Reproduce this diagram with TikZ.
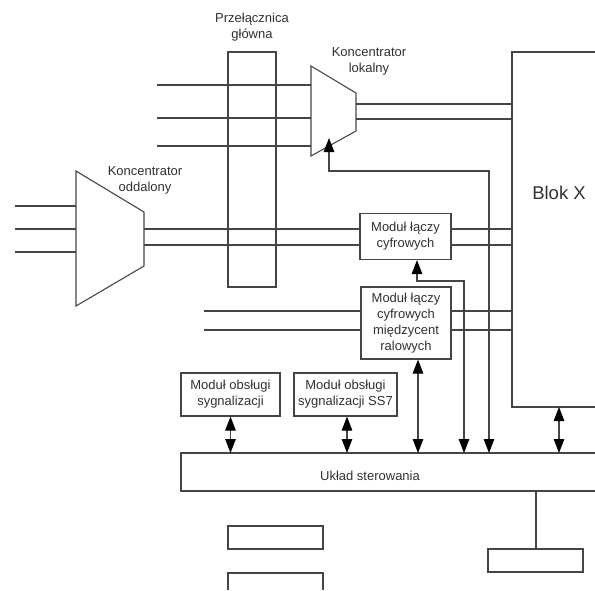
\documentclass[tikz,border=0pt]{standalone}
\usepackage{fontspec}
\setmainfont{Liberation Sans}
\usepackage{xcolor}
\usetikzlibrary{arrows.meta}
\definecolor{linia}{HTML}{454545}
\definecolor{tekst}{HTML}{303030}

\begin{document}
\begin{tikzpicture}[x=1pt,y=-1pt,line width=1.1pt,color=linia,text=tekst,
  font=\fontsize{13}{16}\selectfont,
  every node/.style={align=center},
  >={Triangle[length=14pt,width=10.5pt,color=black]},
  blok/.style={draw,inner sep=2pt},
  dwa/.style={<->}]
\useasboundingbox (0,0) rectangle (595,590);
% przelacznica glowna
\node[blok,minimum width=48pt,minimum height=235pt] (przel) at (252,169.5) {};
\node (przelt) at (252,27) {Przełącznica\\główna};
% koncentrator lokalny
\draw (311,66) coordinate (kl1) -- (356,93) coordinate (kl2) -- (356,131) -- (311,156) -- cycle;
\node (klt) at (369,61) {Koncentrator\\lokalny};
% koncentrator oddalony
\draw (76,171) coordinate (ko1) -- (144,212) coordinate (ko2) -- (144,266) -- (76,306) -- cycle;
\node (kot) at (145,180) {Koncentrator\\oddalony};
% blok X
\coordinate (blokx) at (512,52);
\draw (595,52) -- (blokx) -- (512,407) -- (595,407);
\node[font=\fontsize{18.5}{22}\selectfont] (blokt) at (559,193) {Blok X};
% moduly
\node[blok,minimum width=91pt,minimum height=46pt] (mlc) at (405.5,236.5) {Moduł łączy\\cyfrowych};
\node[blok,minimum width=90pt,minimum height=72pt] (mlcm) at (406,323) {Moduł łączy\\cyfrowych\\międzycent\\ralowych};
\node[blok,minimum width=99pt,minimum height=43pt] (mos) at (230.5,394.5) {Moduł obsługi\\sygnalizacji};
\node[blok,minimum width=103pt,minimum height=43pt] (mos7) at (345.5,394.5) {Moduł obsługi\\sygnalizacji SS7};
% uklad sterowania
\coordinate (ukl) at (181,453);
\draw (595,453) -- (ukl) -- (181,491) -- (595,491);
\node (uklt) at (370,476) {Układ sterowania};
% lacza
\foreach \y [count=\i] in {85,118,146} {
  \coordinate (wl\i) at (157,\y);
  \draw (wl\i) -- (wl\i -| kl1);
}
\foreach \y [count=\i] in {104,119} {
  \coordinate (ol\i) at (356,\y);
  \draw (ol\i) -- (ol\i -| blokx);
}
\foreach \y [count=\i] in {206,229,252} {
  \coordinate (wo\i) at (15,\y);
  \draw (wo\i) -- (wo\i -| ko1);
}
\foreach \y [count=\i] in {229,245} {
  \coordinate (oo\i) at (144,\y);
  \draw (oo\i) -- (oo\i -| mlc.west);
  \draw (oo\i -| mlc.east) -- (oo\i -| blokx);
}
\foreach \y [count=\i] in {311,330} {
  \coordinate (om\i) at (204,\y);
  \draw (om\i) -- (om\i -| mlcm.west);
  \draw (om\i -| mlcm.east) -- (om\i -| blokx);
}
% sterowanie
\coordinate (sterkl) at (329,138);
\coordinate (zkl) at (489,171);
\draw[dwa] (sterkl) |- (zkl) -- (zkl |- ukl);
\coordinate (zmlc) at (464,281);
\draw[dwa] ([xshift=11.5pt]mlc.south) |- (zmlc) -- (zmlc |- ukl);
\draw[dwa] ([xshift=12pt]mlcm.south) -- ([xshift=12pt]mlcm.south |- ukl);
\draw[dwa] (mos.south) -- (mos.south |- ukl);
\draw[dwa] ([xshift=1.5pt]mos7.south) -- ([xshift=1.5pt]mos7.south |- ukl);
\coordinate (blokd) at (559,407);
\draw[dwa] (blokd) -- (blokd |- ukl);
% dol
\node[blok,minimum width=95pt,minimum height=23pt] (bp) at (535.5,560.5) {};
\coordinate (uklb) at (536,491);
\draw (uklb) -- (uklb |- bp.north);
\node[blok,minimum width=95pt,minimum height=23pt] (bl1) at (275.5,537.5) {};
\draw (228,590) -- (228,573) -- (323,573) -- (323,590);
\end{tikzpicture}
\end{document}
